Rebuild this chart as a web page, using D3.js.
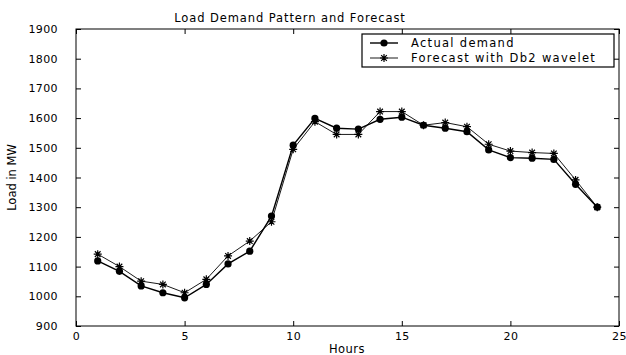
<!DOCTYPE html>
<html>
<head>
<meta charset="utf-8">
<script src="https://cdn.jsdelivr.net/npm/d3@7"></script>
<style>
  body { margin: 0; background: #fff; }
  svg text { font-family: "DejaVu Sans", Arial, sans-serif; fill: #000; }
</style>
</head>
<body>
<svg id="chart" width="626" height="355"></svg>
<script>
// hours 1..24
const hours = d3.range(1, 25);
const actualDemand = [1119, 1084, 1035, 1012, 995, 1040, 1109, 1152, 1270, 1509,
  1599, 1566, 1563, 1596, 1603, 1576, 1566, 1554, 1493, 1467, 1465, 1461, 1377, 1300];
const forecastDb2 = [1142, 1100, 1051, 1040, 1012, 1057, 1136, 1186, 1251, 1495,
  1588, 1545, 1545, 1622, 1622, 1576, 1585, 1571, 1512, 1489, 1484, 1481, 1392, 1300];
const xTicks = [0, 5, 10, 15, 20, 25];
const yTicks = d3.range(900, 2000, 100);

const svg = d3.select("#chart");
const m = { left: 76, right: 7, top: 29, bottom: 29 };
const W = 626, H = 355;

const x = d3.scaleLinear().domain([0, 25]).range([m.left, W - m.right]);
const y = d3.scaleLinear().domain([900, 1900]).range([H - m.bottom, m.top]);

const tick = 5;
const axisFont = 11;

// box frame
svg.append("rect")
  .attr("x", x(0)).attr("y", y(1900))
  .attr("width", x(25) - x(0)).attr("height", y(900) - y(1900))
  .attr("fill", "none").attr("stroke", "#000").attr("stroke-width", 1);

// bottom axis, ticks inward
const gx = svg.append("g").attr("transform", `translate(0,${y(900)})`)
  .call(d3.axisBottom(x).tickValues(xTicks).tickFormat(d3.format("d"))
    .tickSizeInner(-tick).tickSizeOuter(0).tickPadding(6));
gx.select(".domain").remove();

// top ticks
const gxt = svg.append("g").attr("transform", `translate(0,${y(1900)})`)
  .call(d3.axisTop(x).tickValues(xTicks).tickSizeInner(-tick).tickSizeOuter(0).tickFormat(""));
gxt.select(".domain").remove();

// left axis
const gy = svg.append("g").attr("transform", `translate(${x(0)},0)`)
  .call(d3.axisLeft(y).tickValues(yTicks).tickFormat(d3.format("d"))
    .tickSizeInner(-tick).tickSizeOuter(0).tickPadding(18));
gy.select(".domain").remove();

// right ticks
const gyr = svg.append("g").attr("transform", `translate(${x(25)},0)`)
  .call(d3.axisRight(y).tickValues(yTicks).tickSizeInner(-tick).tickSizeOuter(0).tickFormat(""));
gyr.select(".domain").remove();

svg.selectAll(".tick line").attr("stroke", "#000");
svg.selectAll(".tick text").attr("font-size", axisFont)
  .attr("font-family", "DejaVu Sans, sans-serif").attr("letter-spacing", 0.4);

// title and axis labels
svg.append("text").attr("x", 290).attr("y", 22)
  .attr("text-anchor", "middle").attr("font-size", 11.5).attr("letter-spacing", 0.9)
  .text("Load Demand Pattern and Forecast");
svg.append("text").attr("x", 347).attr("y", 353)
  .attr("text-anchor", "middle").attr("font-size", 11.5).attr("letter-spacing", 0.5).text("Hours");
svg.append("text")
  .attr("transform", `translate(16,${(y(900) + y(1900)) / 2}) rotate(-90)`)
  .attr("text-anchor", "middle").attr("font-size", 11.5)
  .attr("font-family", "Liberation Sans Narrow, DejaVu Sans Condensed, sans-serif")
  .text("Load in MW");

const line = d3.line().x((d, i) => x(hours[i])).y(d => y(d));

// forecast series with star markers
svg.append("path").datum(forecastDb2).attr("d", line)
  .attr("fill", "none").attr("stroke", "#000").attr("stroke-width", 0.9);

function star(g, cx, cy, r) {
  const p = d3.path();
  for (let k = 0; k < 4; k++) {
    const a = k * Math.PI / 4;
    p.moveTo(cx - r * Math.cos(a), cy - r * Math.sin(a));
    p.lineTo(cx + r * Math.cos(a), cy + r * Math.sin(a));
  }
  g.append("path").attr("d", p.toString()).attr("stroke", "#000").attr("stroke-width", 1.2);
}
const gStars = svg.append("g");
forecastDb2.forEach((v, i) => star(gStars, x(hours[i]), y(v), 4));

// actual series with filled circles
svg.append("path").datum(actualDemand).attr("d", line)
  .attr("fill", "none").attr("stroke", "#000").attr("stroke-width", 1.4);
svg.append("g").selectAll("circle").data(actualDemand).join("circle")
  .attr("cx", (d, i) => x(hours[i])).attr("cy", d => y(d)).attr("r", 3.6).attr("fill", "#000");

// legend
const lg = svg.append("g").attr("transform", "translate(362,34)");
lg.append("rect").attr("width", 252).attr("height", 33)
  .attr("fill", "#fff").attr("stroke", "#000").attr("stroke-width", 1.2);
const items = [
  { label: "Actual demand", mark: "circle" },
  { label: "Forecast with Db2 wavelet", mark: "star" }
];
items.forEach((it, i) => {
  const yy = 9 + i * 15;
  lg.append("line").attr("x1", 8).attr("x2", 36).attr("y1", yy).attr("y2", yy)
    .attr("stroke", "#000").attr("stroke-width", it.mark === "circle" ? 1.4 : 0.9);
  if (it.mark === "circle") lg.append("circle").attr("cx", 22).attr("cy", yy).attr("r", 3.6);
  else star(lg, 22, yy, 4);
  lg.append("text").attr("x", 49).attr("y", yy + 4).attr("font-size", 11.5)
    .attr("letter-spacing", 1.3).text(it.label);
});
</script>
</body>
</html>
